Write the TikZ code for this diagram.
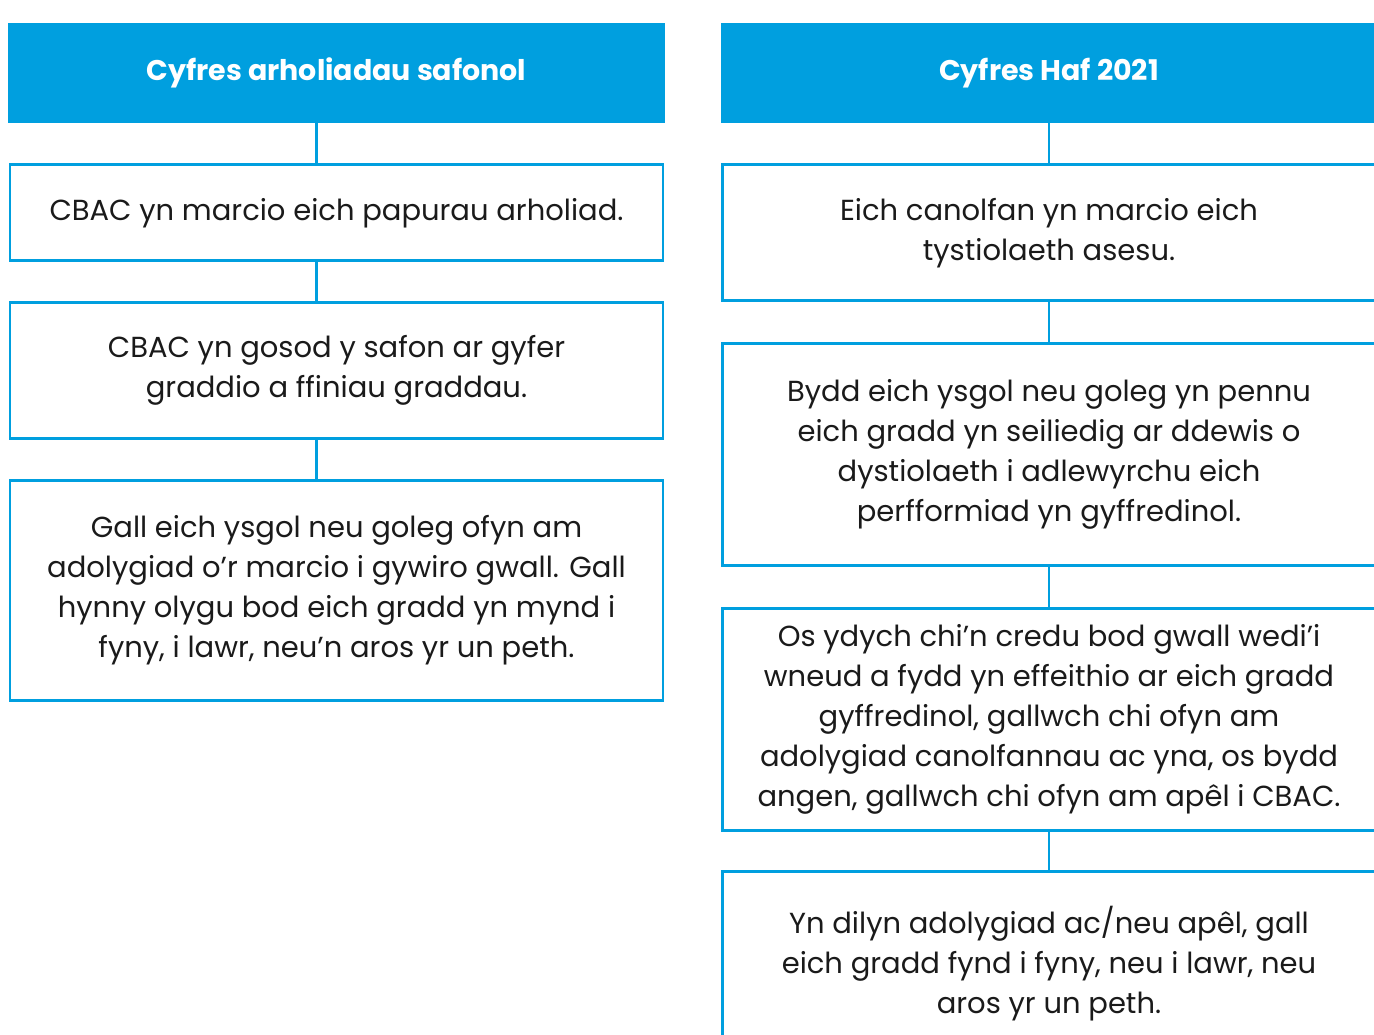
\documentclass[tikz,border=0pt]{standalone}
\usepackage{fontspec}
\setmainfont{Poppins}
\usepackage{tikz}
\usetikzlibrary{positioning}
\definecolor{cybBlue}{RGB}{0,159,223}
\definecolor{cybText}{RGB}{26,26,26}
\tikzstyle{headbox} = [
  rectangle,
  fill=cybBlue,
  text=white,
  font=\fontsize{16.2}{22.7}\selectfont\bfseries,
  minimum width=13.14cm,
  minimum height=2cm,
  align=center,
  ]
\tikzstyle{stepbox} = [
  rectangle,
  draw=cybBlue,
  line width=1.6pt,
  text=cybText,
  font=\fontsize{16.5}{22.7}\selectfont,
  minimum width=13.06cm,
  align=center,
  ]
\tikzstyle{link} = [cybBlue, line width=1.2pt]

\begin{document}
\begin{tikzpicture}
  \useasboundingbox (0,0) rectangle (27.48,-20.7);

  % standard series
  \node[headbox] (headL) at (6.73,-1.46) {\raisebox{-4pt}{Cyfres arholiadau safonol}};
  \node[stepbox, minimum height=1.92cm, below=0.8cm of headL] (stepL1)
    {CBAC yn marcio eich papurau arholiad.};
  \node[stepbox, minimum height=2.72cm, below=0.78cm of stepL1] (stepL2)
    {CBAC yn gosod y safon ar gyfer\\graddio a ffiniau graddau.};
  \node[stepbox, minimum height=4.4cm, below=0.78cm of stepL2] (stepL3)
    {Gall eich ysgol neu goleg ofyn am\\adolygiad o'r marcio i gywiro gwall. Gall\\hynny olygu bod eich gradd yn mynd i\\fyny, i lawr, neu'n aros yr un peth.};

  % summer 2021 series
  \node[headbox] (headR) at (20.98,-1.46) {\raisebox{-4pt}{Cyfres Haf 2021}};
  \node[stepbox, minimum height=2.72cm, below=0.8cm of headR] (stepR1)
    {Eich canolfan yn marcio eich\\tystiolaeth asesu.};
  \node[stepbox, minimum height=4.44cm, below=0.8cm of stepR1] (stepR2)
    {Bydd eich ysgol neu goleg yn pennu\\eich gradd yn seiliedig ar ddewis o\\dystiolaeth i adlewyrchu eich\\perfformiad yn gyffredinol.};
  \node[stepbox, minimum height=4.44cm, below=0.8cm of stepR2] (stepR3)
    {Os ydych chi'n credu bod gwall wedi'i\\wneud a fydd yn effeithio ar eich gradd\\gyffredinol, gallwch chi ofyn am\\adolygiad canolfannau ac yna, os bydd\\angen, gallwch chi ofyn am apêl i CBAC.};
  \node[stepbox, minimum height=3.7cm, below=0.76cm of stepR3] (stepR4)
    {Yn dilyn adolygiad ac/neu apêl, gall\\eich gradd fynd i fyny, neu i lawr, neu\\aros yr un peth.};

  \draw[link] ([xshift=-0.4cm]headL.south) -- ([xshift=-0.4cm]stepL1.north);
  \draw[link] ([xshift=-0.4cm]stepL1.south) -- ([xshift=-0.4cm]stepL2.north);
  \draw[link] ([xshift=-0.4cm]stepL2.south) -- ([xshift=-0.4cm]stepL3.north);
  \draw[link] (headR) -- (stepR1);
  \draw[link] (stepR1) -- (stepR2);
  \draw[link] (stepR2) -- (stepR3);
  \draw[link] (stepR3) -- (stepR4);
\end{tikzpicture}
\end{document}
